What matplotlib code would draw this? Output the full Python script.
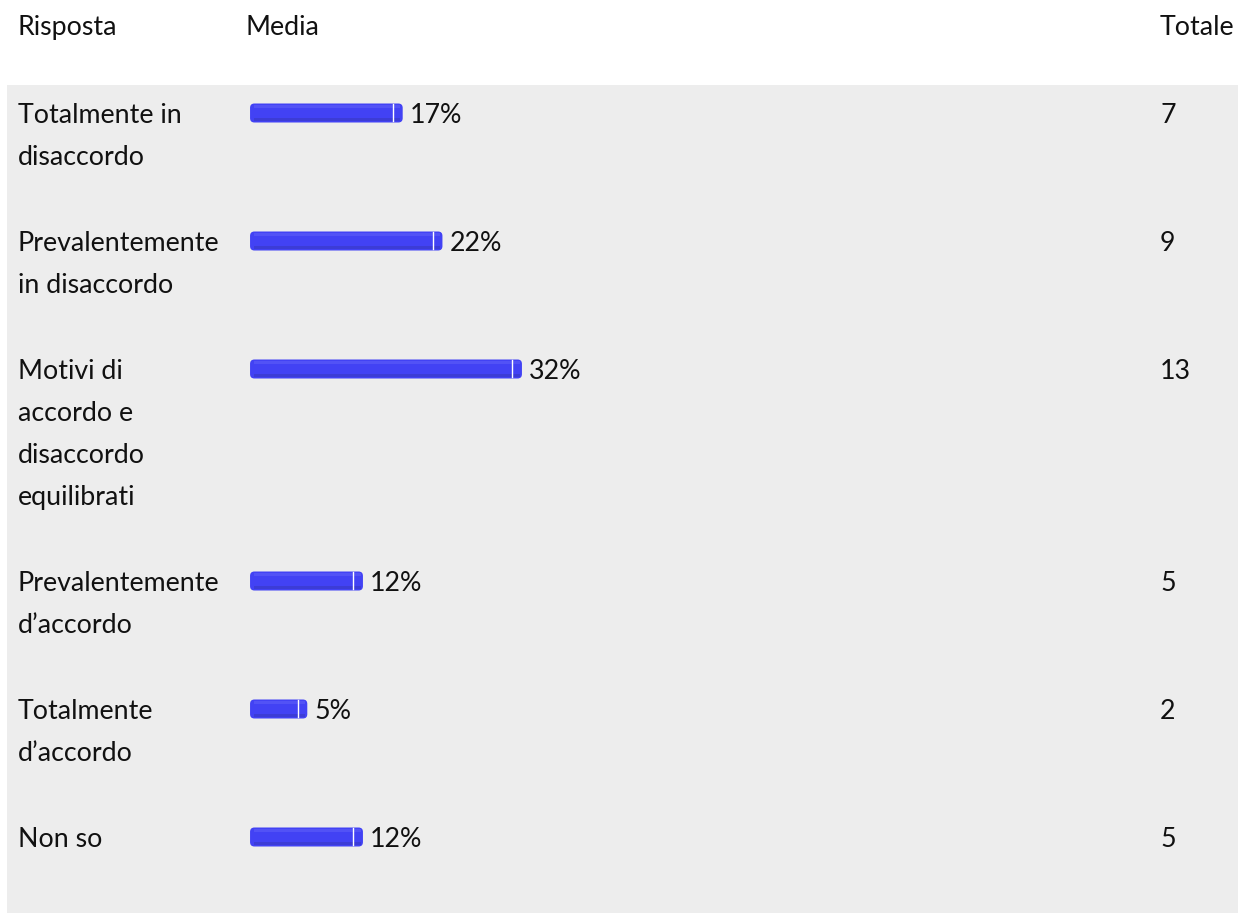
import matplotlib.pyplot as plt
from matplotlib.patches import FancyBboxPatch, Rectangle

plt.rcParams['font.family'] = ['Lato', 'DejaVu Sans']

# data
risposte = [
    ["Totalmente in", "disaccordo"],
    ["Prevalentemente", "in disaccordo"],
    ["Motivi di", "accordo e", "disaccordo", "equilibrati"],
    ["Prevalentemente", "d\u2019accordo"],
    ["Totalmente", "d\u2019accordo"],
    ["Non so"],
]
media = [17, 22, 32, 12, 5, 12]
totale = [7, 9, 13, 5, 2, 5]
header = ["Risposta", "Media", "Totale"]

W, H = 1238, 913
FS = 19.3
LINE = 42       # px between text lines
ROW_PAD = 44    # extra px per row
BAR_H = 19      # px

fig = plt.figure(figsize=(W / 100, H / 100), dpi=100)
fig.patch.set_facecolor('white')

# layout axes in pixel units
ax = fig.add_axes([0, 0, 1, 1])
ax.set_xlim(0, W)
ax.set_ylim(H, 0)
ax.axis('off')

ax.add_patch(Rectangle((7, 85), W - 7, H - 85, facecolor='#ededed', edgecolor='none', zorder=0))

ax.text(18, 35, header[0], fontsize=FS, va='baseline', ha='left', color='#111111')
ax.text(245, 35, header[1], fontsize=FS, va='baseline', ha='left', color='#111111')
ax.text(1160, 35, header[2], fontsize=FS, va='baseline', ha='left', color='#111111')

# bar axes: x in percent, y in pixels
bx0, bw = 258, 795
bax = fig.add_axes([bx0 / W, 0, bw / W, 1], sharey=ax)
bax.set_xlim(0, 100)
bax.axis('off')
bax.patch.set_alpha(0)
asp = bw / 100  # px per percent unit

base = 123
for lab, pct, n in zip(risposte, media, totale):
    for i, line in enumerate(lab):
        ax.text(18, base + i * LINE, line, fontsize=FS, va='baseline', ha='left', color='#111111')
    ax.text(1160, base, str(n), fontsize=FS, va='baseline', ha='left', color='#111111')

    yc = base - 10
    left, right = -1.0, pct + 1.2
    bar = FancyBboxPatch((left, yc - BAR_H / 2), right - left, BAR_H,
                         boxstyle="round,pad=0,rounding_size=0.55",
                         mutation_aspect=asp, facecolor='#4242f4', edgecolor='none',
                         zorder=2, clip_on=False)
    bax.add_patch(bar)
    # soft highlight and shade bands
    hi = bax.barh(yc - 6.5, pct + 1.4, left=-0.5, height=3, color='#5252f6', zorder=3)
    lo = bax.barh(yc + 7, pct + 1.4, left=-0.5, height=3, color='#3c3cd6', zorder=3)
    for p in list(hi) + list(lo):
        p.set_clip_on(False)
    bax.plot([pct, pct], [yc - BAR_H / 2 + 1, yc + BAR_H / 2 - 1], color='white',
             lw=1.0, zorder=4, clip_on=False)
    bax.text(right + 0.9, base, f"{pct}%", fontsize=FS, va='baseline', ha='left', color='#111111')

    base += len(lab) * LINE + ROW_PAD

fig.savefig('out.png', dpi=100)
